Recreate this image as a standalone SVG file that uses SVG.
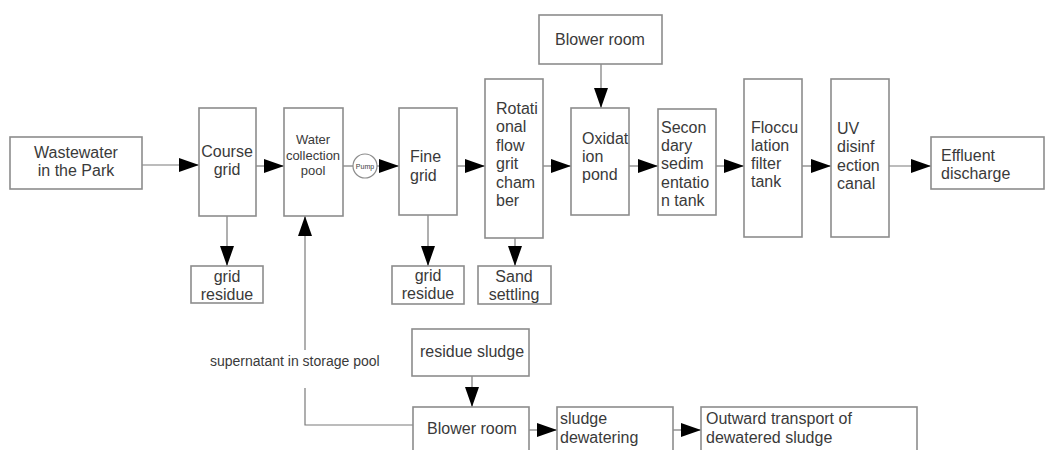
<svg xmlns="http://www.w3.org/2000/svg" width="1050" height="450" viewBox="0 0 1050 450">
  <style>
    .box { fill: #ffffff; stroke: #8c8c8c; stroke-width: 1.6; }
    .t { font-family: "Liberation Sans", Arial, sans-serif; font-size: 16px; fill: #3a3a3a; }
    .c { text-anchor: middle; }
    .small { font-size: 13px; }
    .note { font-size: 14px; }
    .pump { font-size: 7px; }
    .link { fill: none; stroke: #7a7a7a; stroke-width: 1.2; }
  </style>
  <defs>
    <marker id="arrow" markerUnits="userSpaceOnUse" markerWidth="20" markerHeight="14" refX="20" refY="7" orient="auto">
      <path d="M0,0 L20,7 L0,14 Z" fill="#000000"/>
    </marker>
  </defs>
  <rect width="1050" height="450" fill="#ffffff"/>

  <!-- process flow connectors -->
  <g id="connectors">
    <path class="link" d="M142,165 H199" marker-end="url(#arrow)"/>
    <path class="link" d="M256,166 H284" marker-end="url(#arrow)"/>
    <path class="link" d="M343,166 H353"/>
    <path class="link" d="M377,166 H399" marker-end="url(#arrow)"/>
    <path class="link" d="M457,166 H485" marker-end="url(#arrow)"/>
    <path class="link" d="M543,166 H571" marker-end="url(#arrow)"/>
    <path class="link" d="M629,166 H658" marker-end="url(#arrow)"/>
    <path class="link" d="M716,166 H744" marker-end="url(#arrow)"/>
    <path class="link" d="M802,166 H831" marker-end="url(#arrow)"/>
    <path class="link" d="M889,166 H931" marker-end="url(#arrow)"/>
    <path class="link" d="M601,64 V108" marker-end="url(#arrow)"/>
    <path class="link" d="M227,216 V266" marker-end="url(#arrow)"/>
    <path class="link" d="M428,215 V266" marker-end="url(#arrow)"/>
    <path class="link" d="M515,238 V266" marker-end="url(#arrow)"/>
    <path class="link" d="M472,376 V407" marker-end="url(#arrow)"/>
    <path class="link" d="M529,430 H557" marker-end="url(#arrow)"/>
    <path class="link" d="M673,430 H701" marker-end="url(#arrow)"/>
    <!-- supernatant return line to the collection pool -->
    <path class="link" d="M413,425 H305 V388"/>
    <path class="link" d="M305,350 V216" marker-end="url(#arrow)"/>
  </g>

  <g id="wastewater">
    <rect class="box" x="10" y="137" width="132" height="52"/>
    <text class="t c" x="76" y="157.5">Wastewater</text>
    <text class="t c" x="76" y="175.5">in the Park</text>
  </g>

  <g id="course-grid">
    <rect class="box" x="199" y="108" width="57" height="108"/>
    <text class="t c" x="227" y="156.5">Course</text>
    <text class="t c" x="227" y="174.5">grid</text>
  </g>

  <g id="water-collection-pool">
    <rect class="box" x="284" y="108" width="59" height="108"/>
    <text class="t c small" x="313" y="143.5">Water</text>
    <text class="t c small" x="313" y="159.5">collection</text>
    <text class="t c small" x="313" y="174.5">pool</text>
  </g>

  <g id="pump">
    <circle cx="365" cy="166" r="12" fill="#ffffff" stroke="#8c8c8c" stroke-width="1.2"/>
    <text class="t c pump" x="365" y="168.5">Pump</text>
  </g>

  <g id="fine-grid">
    <rect class="box" x="399" y="108" width="58" height="107"/>
    <text class="t" x="410" y="161.5">Fine</text>
    <text class="t" x="410" y="180.5">grid</text>
  </g>

  <g id="grit-chamber">
    <rect class="box" x="485" y="79" width="58" height="159"/>
    <text class="t" x="496" y="113.5">Rotati</text>
    <text class="t" x="496" y="132">onal</text>
    <text class="t" x="496" y="150.5">flow</text>
    <text class="t" x="496" y="169">grit</text>
    <text class="t" x="496" y="187.5">cham</text>
    <text class="t" x="496" y="206">ber</text>
  </g>

  <g id="blower-room-top">
    <rect class="box" x="539" y="15" width="123" height="49"/>
    <text class="t c" x="600" y="44.5">Blower room</text>
  </g>

  <g id="oxidation-pond">
    <rect class="box" x="571" y="108" width="58" height="107"/>
    <text class="t" x="582" y="143.5">Oxidat</text>
    <text class="t" x="582" y="161.5">ion</text>
    <text class="t" x="582" y="179.5">pond</text>
  </g>

  <g id="secondary-sedimentation">
    <rect class="box" x="658" y="109" width="58" height="106"/>
    <text class="t" x="661" y="132.5">Secon</text>
    <text class="t" x="661" y="150.5">dary</text>
    <text class="t" x="661" y="169">sedim</text>
    <text class="t" x="661" y="187.5">entatio</text>
    <text class="t" x="661" y="205.5">n tank</text>
  </g>

  <g id="flocculation-filter">
    <rect class="box" x="744" y="79" width="58" height="158"/>
    <text class="t" x="751" y="132.5">Floccu</text>
    <text class="t" x="751" y="150.5">lation</text>
    <text class="t" x="751" y="168.5">filter</text>
    <text class="t" x="751" y="186.5">tank</text>
  </g>

  <g id="uv-disinfection">
    <rect class="box" x="831" y="79" width="58" height="158"/>
    <text class="t" x="837" y="133.5">UV</text>
    <text class="t" x="837" y="152">disinf</text>
    <text class="t" x="837" y="170.5">ection</text>
    <text class="t" x="837" y="189">canal</text>
  </g>

  <g id="effluent">
    <rect class="box" x="931" y="137" width="113" height="52"/>
    <text class="t" x="941" y="160.5">Effluent</text>
    <text class="t" x="941" y="178.5">discharge</text>
  </g>

  <g id="grid-residue-1">
    <rect class="box" x="191" y="266" width="72" height="37"/>
    <text class="t c" x="227" y="281.5">grid</text>
    <text class="t c" x="227" y="299.5">residue</text>
  </g>

  <g id="grid-residue-2">
    <rect class="box" x="392" y="266" width="72" height="38"/>
    <text class="t c" x="428" y="281">grid</text>
    <text class="t c" x="428" y="299">residue</text>
  </g>

  <g id="sand-settling">
    <rect class="box" x="478" y="266" width="73" height="38"/>
    <text class="t c" x="514" y="282">Sand</text>
    <text class="t c" x="514" y="300">settling</text>
  </g>

  <g id="supernatant-label">
    <text class="t note" x="210" y="366">supernatant in storage pool</text>
  </g>

  <g id="residue-sludge">
    <rect class="box" x="412" y="329" width="117" height="47"/>
    <text class="t c" x="472" y="356.5">residue sludge</text>
  </g>

  <g id="blower-room-bottom">
    <rect class="box" x="413" y="407" width="116" height="60"/>
    <text class="t c" x="472" y="433.5">Blower room</text>
  </g>

  <g id="sludge-dewatering">
    <rect class="box" x="557" y="407" width="116" height="60"/>
    <text class="t" x="560" y="423.5">sludge</text>
    <text class="t" x="560" y="442.5">dewatering</text>
  </g>

  <g id="outward-transport">
    <rect class="box" x="701" y="407" width="216" height="60"/>
    <text class="t" x="706" y="423.5">Outward transport of</text>
    <text class="t" x="706" y="442.5">dewatered sludge</text>
  </g>
</svg>
